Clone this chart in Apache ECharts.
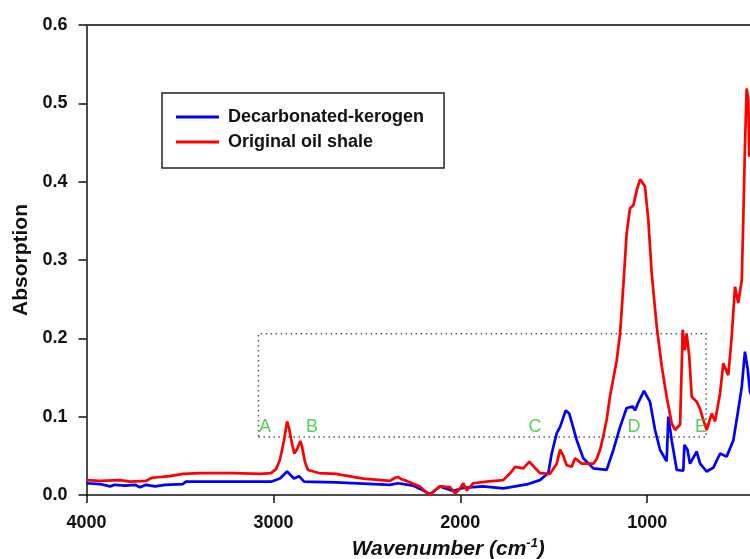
<!DOCTYPE html>
<html>
<head>
<meta charset="utf-8">
<script src="https://cdn.jsdelivr.net/npm/echarts@6/dist/echarts.min.js"></script>
<style>
  html, body { margin: 0; padding: 0; background: #ffffff; }
  #chart { width: 750px; height: 559px; }
</style>
</head>
<body>
<div id="chart"></div>
<script>
// FTIR spectra: wavenumber (cm-1) and absorption for each sample
const kerogenWn = [4000, 3928, 3874, 3848, 3794, 3740, 3714, 3682, 3633, 3580, 3484, 3468, 3232, 3013,
  2965, 2927, 2890, 2863, 2836, 2665, 2376, 2333, 2253, 2200, 2162, 2109, 2039, 1986, 1879, 1770,
  1645, 1574, 1529, 1511, 1484, 1466, 1436, 1417, 1377, 1342, 1288, 1217, 1181, 1145, 1110, 1078,
  1065, 1048, 1017, 985, 958, 931, 896, 887, 869, 842, 807, 801, 785, 771, 735, 717, 682, 646, 610,
  575, 539, 513, 494, 477, 462, 450, 430];
const kerogenAbs = [0.015, 0.014, 0.011, 0.013, 0.012, 0.013, 0.010, 0.013, 0.011, 0.013, 0.014, 0.017, 0.017, 0.017,
  0.021, 0.030, 0.021, 0.024, 0.017, 0.016, 0.013, 0.015, 0.012, 0.006, 0.001, 0.011, 0.005, 0.009, 0.011, 0.0085,
  0.0135, 0.019, 0.028, 0.053, 0.079, 0.087, 0.108, 0.104, 0.070, 0.047, 0.034, 0.032, 0.0575, 0.087, 0.111, 0.113,
  0.108, 0.118, 0.133, 0.119, 0.083, 0.0575, 0.043, 0.100, 0.070, 0.032, 0.031, 0.064, 0.058, 0.040, 0.0555, 0.040, 0.030, 0.035, 0.053,
  0.049, 0.070, 0.1085, 0.138, 0.183, 0.160, 0.132, 0.120];

const shaleWn = [4000, 3928, 3821, 3767, 3682, 3650, 3553, 3484, 3393, 3211, 3072, 3013, 2986, 2965, 2943,
  2927, 2917, 2900, 2888, 2874, 2856, 2847, 2831, 2815, 2756, 2665, 2644, 2519, 2376, 2349, 2332, 2314,
  2287, 2216, 2180, 2162, 2135, 2109, 2055, 2028, 2002, 1984, 1966, 1930, 1859, 1770, 1725, 1707, 1663,
  1631, 1574, 1520, 1484, 1466, 1449, 1431, 1404, 1386, 1350, 1324, 1288, 1270, 1252, 1235, 1217, 1199,
  1163, 1145, 1128, 1110, 1092, 1074, 1055, 1038, 1012, 994, 976, 949, 922, 896, 869, 851, 824, 810,
  798, 789, 775, 762, 735, 717, 700, 682, 655, 637, 610, 593, 566, 548, 530, 513, 494, 486, 477, 468,
  459, 454, 430];
const shaleAbs = [0.019, 0.018, 0.019, 0.017, 0.018, 0.022, 0.024, 0.027, 0.028, 0.028, 0.027, 0.028, 0.033, 0.045, 0.070,
  0.094, 0.086, 0.065, 0.053, 0.058, 0.069, 0.062, 0.042, 0.032, 0.028, 0.027, 0.026, 0.021, 0.018, 0.022, 0.023, 0.020,
  0.018, 0.011, 0.003, 0.000, 0.006, 0.011, 0.010, 0.002, 0.008, 0.015, 0.006, 0.015, 0.017, 0.019, 0.030, 0.036, 0.034,
  0.0425, 0.028, 0.027, 0.040, 0.058, 0.050, 0.038, 0.036, 0.047, 0.040, 0.040, 0.040, 0.046, 0.058, 0.075, 0.096, 0.126,
  0.172, 0.2065, 0.266, 0.334, 0.366, 0.370, 0.390, 0.403, 0.394, 0.351, 0.283, 0.215, 0.164, 0.1255, 0.0915, 0.083, 0.090, 0.211,
  0.185, 0.206, 0.177, 0.1255, 0.119, 0.110, 0.096, 0.083, 0.104, 0.094, 0.130, 0.168, 0.153, 0.202, 0.266, 0.245, 0.2745, 0.351, 0.445, 0.519,
  0.505, 0.432, 0.440];

// Axis range and tick marks
const wnRange = [450, 4000];
const wnTicks = [1000, 2000, 3000, 4000];
const absRange = [0, 0.6];

// Band labels and the highlighted region
const bandLetters = ['A', 'B', 'C', 'D', 'E'];
const bandWn = [3045, 2794, 1600, 1071, 712];
const bandLabelAbs = 0.087;
const regionWn = [3080, 685];
const regionAbs = [0.074, 0.206];

const seriesNames = ['Decarbonated-kerogen', 'Original oil shale'];
const FONT = '"Liberation Sans", Arial, sans-serif';
const INK = '#111111';

const pairs = (xs, ys) => xs.map((x, i) => [x, ys[i]]);

const chart = echarts.init(document.getElementById('chart'), null, { renderer: 'canvas' });

chart.setOption({
  animation: false,
  backgroundColor: '#ffffff',
  textStyle: { fontFamily: FONT },
  grid: { left: 86.5, right: 0, top: 25, bottom: 64, show: false, outerBoundsMode: 'none', containLabel: false },
  legend: {
    data: seriesNames,
    orient: 'vertical',
    left: 162, top: 93,
    padding: [15, 20, 17, 14],
    itemGap: 7,
    itemWidth: 43,
    itemHeight: 3,
    icon: 'rect',
    borderColor: '#222222',
    borderWidth: 1.5,
    textStyle: { fontFamily: FONT, fontSize: 18, fontWeight: 'bold', color: INK, padding: [0, 0, 0, 4] }
  },
  xAxis: [
    {
      type: 'value',
      inverse: true,
      min: wnRange[0], max: wnRange[1],
      name: '{b|Wavenumber (cm}{s|-1}{b|)}',
      nameLocation: 'middle',
      nameGap: 40,
      nameTextStyle: {
        padding: [0, 0, 0, 60],
        rich: {
          b: { fontFamily: FONT, fontSize: 21, fontWeight: 'bold', fontStyle: 'italic', color: INK, lineHeight: 24 },
          s: { fontFamily: FONT, fontSize: 13, fontWeight: 'bold', fontStyle: 'italic', color: INK, verticalAlign: 'top', lineHeight: 24 }
        }
      },
      axisLine: { show: true, lineStyle: { color: INK, width: 1.5 } },
      axisTick: { show: true, inside: false, length: 8, customValues: wnTicks, lineStyle: { color: INK, width: 1.5 } },
      axisLabel: {
        show: true, margin: 19, fontFamily: FONT, fontSize: 18, fontWeight: 'bold', color: INK,
        customValues: wnTicks,
        formatter: v => String(v)
      },
      splitLine: { show: false }
    },
    {
      // frame line along the top of the plot
      type: 'value',
      position: 'top',
      inverse: true,
      min: wnRange[0], max: wnRange[1],
      axisLine: { show: true, lineStyle: { color: '#444444', width: 2 } },
      axisTick: { show: false },
      axisLabel: { show: false },
      splitLine: { show: false }
    }
  ],
  yAxis: {
    type: 'value',
    min: absRange[0], max: absRange[1], interval: 0.1,
    name: 'Absorption',
    nameLocation: 'middle',
    nameGap: 51,
    nameTextStyle: { fontFamily: FONT, fontSize: 21, fontWeight: 'bold', color: INK },
    axisLine: { show: true, lineStyle: { color: INK, width: 1.5 } },
    axisTick: { show: true, inside: false, length: 8, lineStyle: { color: INK, width: 1.5 } },
    axisLabel: {
      margin: 19, fontFamily: FONT, fontSize: 18, fontWeight: 'bold', color: INK,
      formatter: v => v.toFixed(1)
    },
    splitLine: { show: false }
  },
  series: [
    {
      name: seriesNames[0],
      type: 'line',
      data: pairs(kerogenWn, kerogenAbs),
      symbol: 'none',
      showSymbol: false,
      lineStyle: { color: '#0000ff', width: 2.7 },
      itemStyle: { color: '#0000ff' },
      z: 2
    },
    {
      name: seriesNames[1],
      type: 'line',
      data: pairs(shaleWn, shaleAbs),
      symbol: 'none',
      showSymbol: false,
      lineStyle: { color: '#ff0000', width: 2.7 },
      itemStyle: { color: '#ff0000' },
      z: 3,
      markArea: {
        silent: true,
        itemStyle: {
          color: 'rgba(0,0,0,0)',
          borderColor: '#555555',
          borderWidth: 1.5,
          borderType: [1.5, 3.5]
        },
        data: [[
          { xAxis: regionWn[0], yAxis: regionAbs[0] },
          { xAxis: regionWn[1], yAxis: regionAbs[1] }
        ]]
      }
    },
    {
      name: 'bands',
      type: 'scatter',
      data: bandWn.map((w, i) => [w, bandLabelAbs, bandLetters[i]]),
      symbolSize: 1,
      itemStyle: { color: 'rgba(0,0,0,0)' },
      silent: true,
      z: 4,
      label: {
        show: true,
        position: 'inside',
        formatter: p => p.value[2],
        fontFamily: FONT,
        fontSize: 18,
        color: '#2cc42c'
      }
    }
  ]
});
</script>
</body>
</html>
